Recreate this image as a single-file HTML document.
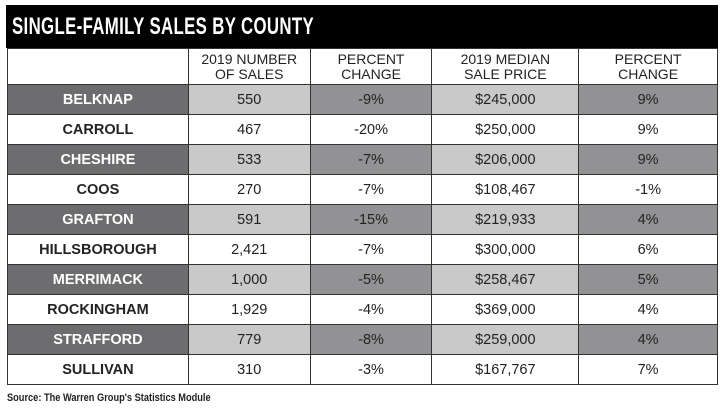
<!DOCTYPE html>
<html><head><style>
body{margin:0;width:726px;height:411px;background:#fff;position:relative;overflow:hidden;font-family:"Liberation Sans",Arial,sans-serif}
.title{position:absolute;left:6px;top:5px;width:712px;height:43px;background:#000}
.title span{position:absolute;left:6px;top:8px;color:#fff;font-weight:bold;font-size:24px;transform:scaleX(0.7);transform-origin:left top;white-space:nowrap;font-family:"Liberation Sans Narrow","Liberation Sans",sans-serif;letter-spacing:0.5px}
table{position:absolute;left:7px;top:48px;border-collapse:collapse;width:711px}
td{border:1.5px solid #333;text-align:center;font-size:14.5px;color:#222;padding:0;height:29px}
tr.h td{height:35px;font-size:14px;line-height:15px}
td.c{font-weight:bold;font-size:14.5px}
tr.s td.c{background:#6d6d70;color:#fff}
tr.s td.l{background:#c9c9c9}
tr.s td.m{background:#929295}
.src{position:absolute;left:7px;top:392px;font-size:11px;font-weight:bold;color:#222;transform:scaleX(0.84);transform-origin:left top;white-space:nowrap}
</style></head><body>
<div class="title"><span>SINGLE-FAMILY SALES BY COUNTY</span></div>
<table>
<colgroup><col style="width:181px"><col style="width:122px"><col style="width:122px"><col style="width:147px"><col style="width:139px"></colgroup>
<tr class="h"><td></td><td>2019 NUMBER<br>OF SALES</td><td>PERCENT<br>CHANGE</td><td>2019 MEDIAN<br>SALE PRICE</td><td>PERCENT<br>CHANGE</td></tr>
<tr class="s"><td class="c">BELKNAP</td><td class="l">550</td><td class="m">-9%</td><td class="l">$245,000</td><td class="m">9%</td></tr>
<tr><td class="c">CARROLL</td><td>467</td><td>-20%</td><td>$250,000</td><td>9%</td></tr>
<tr class="s"><td class="c">CHESHIRE</td><td class="l">533</td><td class="m">-7%</td><td class="l">$206,000</td><td class="m">9%</td></tr>
<tr><td class="c">COOS</td><td>270</td><td>-7%</td><td>$108,467</td><td>-1%</td></tr>
<tr class="s"><td class="c">GRAFTON</td><td class="l">591</td><td class="m">-15%</td><td class="l">$219,933</td><td class="m">4%</td></tr>
<tr><td class="c">HILLSBOROUGH</td><td>2,421</td><td>-7%</td><td>$300,000</td><td>6%</td></tr>
<tr class="s"><td class="c">MERRIMACK</td><td class="l">1,000</td><td class="m">-5%</td><td class="l">$258,467</td><td class="m">5%</td></tr>
<tr><td class="c">ROCKINGHAM</td><td>1,929</td><td>-4%</td><td>$369,000</td><td>4%</td></tr>
<tr class="s"><td class="c">STRAFFORD</td><td class="l">779</td><td class="m">-8%</td><td class="l">$259,000</td><td class="m">4%</td></tr>
<tr><td class="c">SULLIVAN</td><td>310</td><td>-3%</td><td>$167,767</td><td>7%</td></tr>
</table>
<div class="src">Source: The Warren Group's Statistics Module</div>
</body></html>
